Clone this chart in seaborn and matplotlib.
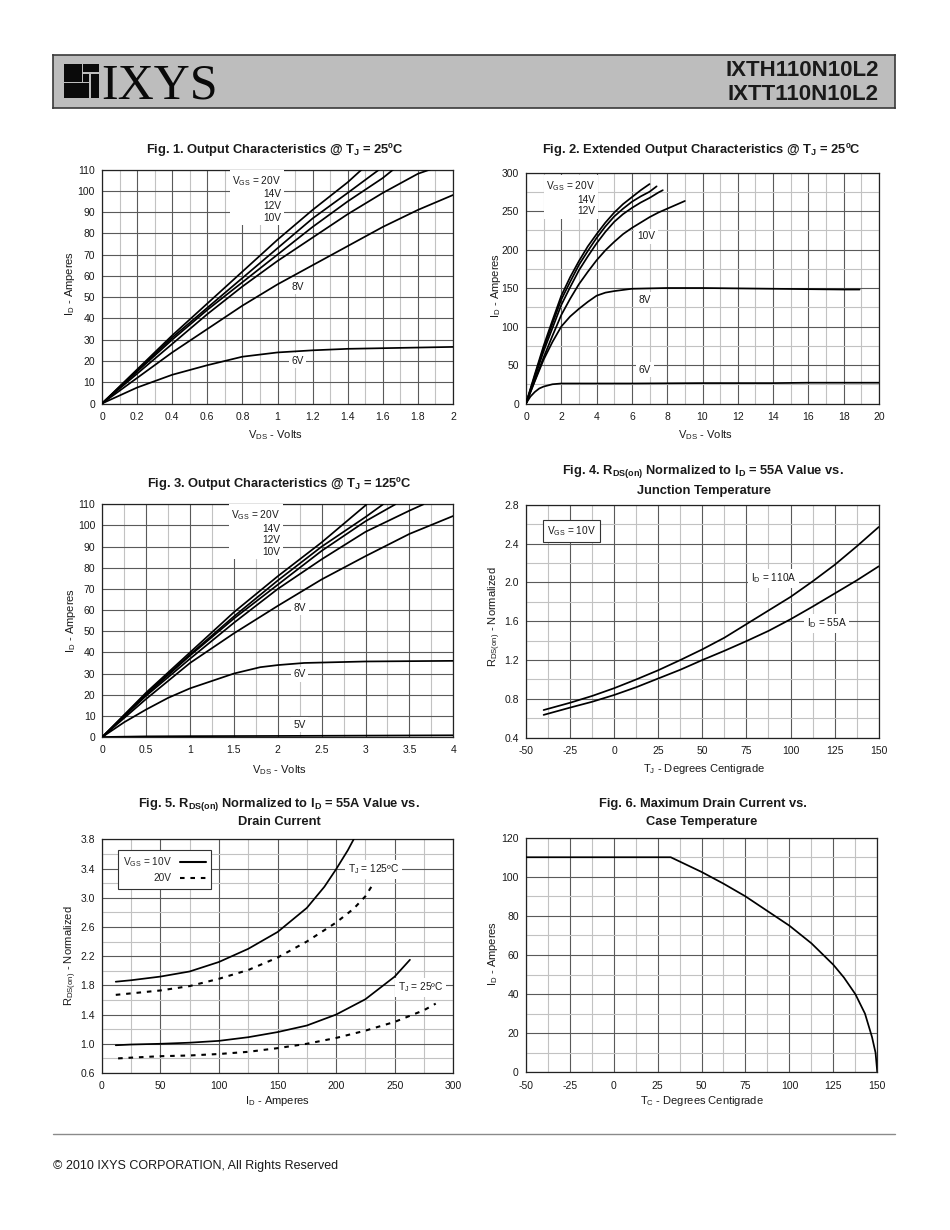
import numpy as np
import pandas as pd
import matplotlib
matplotlib.use("Agg")
import matplotlib.pyplot as plt
import seaborn as sns
from matplotlib.patches import Rectangle
from matplotlib.lines import Line2D

sns.set_style("white")
plt.rcParams["font.family"] = ["Liberation Sans", "DejaVu Sans"]
plt.rcParams["mathtext.fontset"] = "custom"
plt.rcParams["mathtext.rm"] = "Liberation Sans"
plt.rcParams["mathtext.it"] = "Liberation Sans:italic"
plt.rcParams["mathtext.bf"] = "Liberation Sans:bold"

# ---------------- Fig. 1 data (TJ = 25C, 0-2 V) ----------------
f1_20v_x = [0, 0.2, 0.4, 0.6, 0.8, 1.0, 1.2, 1.4, 1.48]
f1_20v_y = [0, 16, 32, 47, 62, 77, 91, 104, 110]
f1_14v_x = [0, 0.2, 0.4, 0.6, 0.8, 1.0, 1.2, 1.4, 1.58]
f1_14v_y = [0, 15.5, 31, 45, 59, 73, 87, 99, 110]
f1_12v_x = [0, 0.2, 0.4, 0.6, 0.8, 1.0, 1.2, 1.4, 1.6, 1.66]
f1_12v_y = [0, 15, 30, 44, 57, 70, 83, 95, 106, 110]
f1_10v_x = [0, 0.2, 0.4, 0.6, 0.8, 1.0, 1.2, 1.4, 1.6, 1.8, 1.87]
f1_10v_y = [0, 14, 28, 42, 55, 67, 78, 89, 99, 108, 110]
f1_8v_x = [0, 0.2, 0.4, 0.6, 0.8, 1.0, 1.2, 1.4, 1.6, 1.8, 2.0]
f1_8v_y = [0, 12, 24, 35, 46, 56, 65, 74, 83, 91, 98]
f1_6v_x = [0, 0.2, 0.4, 0.6, 0.8, 1.0, 1.2, 1.4, 1.6, 1.8, 2.0]
f1_6v_y = [0, 7.5, 13.5, 18, 22, 24, 25, 25.7, 26, 26.3, 26.6]

# ---------------- Fig. 2 data (TJ = 25C, 0-20 V) ----------------
f2_20v_x = [0, 0.5, 1, 1.5, 2, 2.5, 3, 3.5, 4, 4.5, 5, 5.5, 6, 6.5, 7]
f2_20v_y = [0, 38, 75, 108, 140, 164, 185, 204, 220, 235, 248, 259, 268, 277, 285]
f2_14v_x = [0, 0.5, 1, 1.5, 2, 2.5, 3, 3.5, 4, 4.5, 5, 5.5, 6, 6.5, 7, 7.4]
f2_14v_y = [0, 36, 72, 104, 135, 158, 180, 198, 215, 230, 243, 253, 262, 269, 275, 282]
f2_12v_x = [0, 0.5, 1, 1.5, 2, 2.5, 3, 3.5, 4, 4.5, 5, 5.5, 6, 6.5, 7, 7.5, 7.75]
f2_12v_y = [0, 34, 68, 98, 128, 151, 173, 191, 208, 223, 236, 246, 254, 261, 267, 274, 277]
f2_10v_x = [0, 0.5, 1, 1.5, 2, 2.5, 3, 3.5, 4, 4.5, 5, 5.5, 6, 6.5, 7, 7.5, 8, 8.5, 9]
f2_10v_y = [0, 30, 60, 88, 115, 136, 155, 171, 186, 199, 210, 220, 228, 235, 242, 248, 253, 258, 263]
f2_8v_x = [0, 0.5, 1, 1.5, 2, 2.5, 3, 3.5, 4, 4.5, 5, 6, 8, 10, 14, 18, 18.9]
f2_8v_y = [0, 29, 57, 80, 100, 113, 123, 132, 140, 144, 146, 149, 150, 150, 149, 148, 148]
f2_6v_x = [0, 0.25, 0.5, 0.75, 1, 1.5, 2, 6, 10, 14, 16, 20]
f2_6v_y = [0, 9, 15, 19.5, 22, 25, 26, 26, 26.5, 26.5, 27, 27]

# ---------------- Fig. 3 data (TJ = 125C, 0-4 V) ----------------
f3_20v_x = [0, 0.5, 1, 1.5, 2, 2.5, 3, 3.01]
f3_20v_y = [0, 21, 40, 59, 76, 92, 109.5, 110]
f3_14v_x = [0, 0.5, 1, 1.5, 2, 2.5, 3, 3.2]
f3_14v_y = [0, 20.5, 39, 57, 74, 90, 104, 110]
f3_12v_x = [0, 0.5, 1, 1.5, 2, 2.5, 3, 3.34]
f3_12v_y = [0, 20, 38.5, 56, 72, 88, 102, 110]
f3_10v_x = [0, 0.5, 1, 1.5, 2, 2.5, 3, 3.5, 3.66]
f3_10v_y = [0, 19.5, 37, 54, 70, 84, 97, 107, 110]
f3_8v_x = [0, 0.5, 1, 1.5, 2, 2.5, 3, 3.5, 4]
f3_8v_y = [0, 18, 35, 49, 62, 74.5, 85.5, 96, 104.5]
f3_6v_x = [0, 0.25, 0.5, 0.75, 1, 1.5, 1.8, 2, 2.3, 3, 4]
f3_6v_y = [0, 7, 13, 18.5, 23, 30, 33, 34, 35, 35.7, 36]
f3_5v_x = [0, 0.5, 1, 2, 4]
f3_5v_y = [0, 0.3, 0.4, 0.5, 0.8]

# ---------------- Fig. 4 data (RDS(on) vs TJ) ----------------
f4_tj = [-40, -25, -12.5, 0, 12.5, 25, 37.5, 50, 62.5, 75, 87.5, 100, 112.5, 125, 137.5, 150]
f4_110a = [0.685, 0.76, 0.83, 0.91, 1.0, 1.095, 1.2, 1.31, 1.43, 1.57, 1.71, 1.85, 2.01, 2.18, 2.37, 2.57]
f4_55a = [0.635, 0.71, 0.77, 0.84, 0.92, 1.01, 1.1, 1.2, 1.295, 1.395, 1.5, 1.62, 1.75, 1.885, 2.02, 2.165]

# ---------------- Fig. 5 data (RDS(on) vs ID) ----------------
f5_125_10v_x = [12, 25, 50, 75, 100, 125, 150, 175, 190, 200, 210, 215]
f5_125_10v_y = [1.85, 1.87, 1.92, 1.99, 2.12, 2.3, 2.53, 2.86, 3.15, 3.39, 3.65, 3.8]
f5_125_20v_x = [12, 25, 50, 75, 100, 125, 150, 175, 200, 215, 225, 232]
f5_125_20v_y = [1.67, 1.69, 1.73, 1.79, 1.89, 2.01, 2.18, 2.4, 2.66, 2.85, 3.02, 3.2]
f5_25_10v_x = [12, 25, 50, 75, 100, 125, 150, 175, 200, 225, 250, 263]
f5_25_10v_y = [0.98, 0.99, 1.0, 1.015, 1.04, 1.09, 1.16, 1.25, 1.4, 1.61, 1.92, 2.15]
f5_25_20v_x = [14, 25, 50, 75, 100, 125, 150, 175, 200, 225, 250, 275, 285]
f5_25_20v_y = [0.8, 0.81, 0.83, 0.84, 0.86, 0.89, 0.94, 1.0, 1.08, 1.18, 1.3, 1.46, 1.55]

# ---------------- Fig. 6 data (max ID vs TC) ----------------
f6_tc = [-50, 32.5, 50, 62.5, 75, 87.5, 100, 112.5, 125, 131, 137.5, 143, 147, 149, 150]
f6_id = [110, 110, 102.5, 96.5, 90, 82.5, 75, 66, 55, 48.5, 40, 30, 18, 10, 0]

W, H = 950, 1230
fig = plt.figure(figsize=(W / 100, H / 100), dpi=100)
fig.patch.set_facecolor("white")

MAJ = "#5a5a5a"
MIN = "#c2c2c2"
TXT = "#1a1a1a"


def add_ax(x0, x1, y0, y1):
    return fig.add_axes([x0 / W, 1 - y1 / H, (x1 - x0) / W, (y1 - y0) / H])


def style(ax, xlim, ylim, xmaj, xmin, ymaj, ymin, xfmt="%g", yfmt="%g"):
    ax.set_xlim(*xlim)
    ax.set_ylim(*ylim)
    ax.set_xticks(xmaj)
    ax.set_yticks(ymaj)
    ax.set_xticklabels([xfmt % v for v in xmaj])
    ax.set_yticklabels([yfmt % v for v in ymaj])
    if xmin is not None:
        ax.set_xticks(xmin, minor=True)
    if ymin is not None:
        ax.set_yticks(ymin, minor=True)
    ax.grid(which="major", color=MAJ, lw=0.8)
    ax.grid(which="minor", color=MIN, lw=0.8)
    ax.set_axisbelow(True)
    ax.tick_params(which="both", length=0, labelsize=7.5, colors=TXT)
    ax.tick_params(axis="x", pad=6)
    ax.tick_params(axis="y", pad=5)
    for s in ax.spines.values():
        s.set_color("#222222")
        s.set_linewidth(0.9)
        s.set_visible(True)
    ax.set_facecolor("white")


def curve(ax, x, y, dashed=False):
    df = pd.DataFrame({"x": x, "y": y})
    kw = dict(color="black", lw=1.25, estimator=None, sort=False, zorder=3)
    if dashed:
        kw["linestyle"] = (0, (2.2, 2.8))
        kw["lw"] = 1.5
    sns.lineplot(data=df, x="x", y="y", ax=ax, **kw)


def labels(ax, xl, yl, xc, yc, yxc, yyc, ax_box):
    x0, x1, y0, y1 = ax_box
    ax.set_xlabel(xl, fontsize=8, color=TXT)
    ax.set_ylabel(yl, fontsize=8, color=TXT)
    ax.xaxis.label.set_va("center")
    ax.yaxis.label.set_va("center")
    ax.xaxis.set_label_coords((xc - x0) / (x1 - x0), (y1 - yc) / (y1 - y0))
    ax.yaxis.set_label_coords((yxc - x0) / (x1 - x0), (y1 - yyc) / (y1 - y0))


def lab(ax, x, y, s, ha="center"):
    ax.text(x, y, s, fontsize=7.3, color=TXT, ha=ha, va="center", zorder=4,
            linespacing=1.2,
            bbox=dict(boxstyle="square,pad=0.25", fc="white", ec="none"))


def title(xc, yc, s):
    fig.text(xc / W, 1 - yc / H, s, ha="center", va="center", fontsize=9.3,
             fontweight="bold", color=TXT)


# ---------------- Fig. 1 ----------------
b1 = (102, 453, 169.5, 403.5)
ax1 = add_ax(*b1)
for x, y in [(f1_20v_x, f1_20v_y), (f1_14v_x, f1_14v_y), (f1_12v_x, f1_12v_y),
             (f1_10v_x, f1_10v_y), (f1_8v_x, f1_8v_y), (f1_6v_x, f1_6v_y)]:
    curve(ax1, x, y)
style(ax1, (0, 2), (0, 110), np.round(np.arange(0, 2.01, 0.2), 1),
      np.arange(0.1, 2, 0.2), np.arange(0, 111, 10), None)
labels(ax1, r"V$_\mathrm{DS}$ - Volts", r"I$_\mathrm{D}$ - Amperes", 275.7, 435, 70, 283, b1)
lab(ax1, 1.02, 96.5, "V$_\\mathrm{GS}$ = 20V\n14V\n12V\n10V", ha="right")
ax1.texts[-1].set_multialignment("right")
lab(ax1, 1.115, 55, "8V")
lab(ax1, 1.115, 20, "6V")
title(275, 150, r"Fig. 1. Output Characteristics @ T$_\mathbf{J}$ = 25ºC")

# ---------------- Fig. 2 ----------------
b2 = (526, 879, 172.5, 403.5)
ax2 = add_ax(*b2)
for x, y in [(f2_20v_x, f2_20v_y), (f2_14v_x, f2_14v_y), (f2_12v_x, f2_12v_y),
             (f2_10v_x, f2_10v_y), (f2_8v_x, f2_8v_y), (f2_6v_x, f2_6v_y)]:
    curve(ax2, x, y)
style(ax2, (0, 20), (0, 300), np.arange(0, 21, 2), np.arange(1, 20, 2),
      np.arange(0, 301, 50), np.arange(25, 300, 50))
labels(ax2, r"V$_\mathrm{DS}$ - Volts", r"I$_\mathrm{D}$ - Amperes", 705.7, 435, 496, 285, b2)
lab(ax2, 3.92, 267, "V$_\\mathrm{GS}$ = 20V\n14V\n12V", ha="right")
ax2.texts[-1].set_multialignment("right")
lab(ax2, 6.8, 217, "10V")
lab(ax2, 6.75, 135, "8V")
lab(ax2, 6.75, 44, "6V")
title(701.7, 150, r"Fig. 2. Extended Output Characteristics @ T$_\mathbf{J}$ = 25ºC")

# ---------------- Fig. 3 ----------------
b3 = (102.3, 453.3, 504.3, 737)
ax3 = add_ax(*b3)
for x, y in [(f3_20v_x, f3_20v_y), (f3_14v_x, f3_14v_y), (f3_12v_x, f3_12v_y),
             (f3_10v_x, f3_10v_y), (f3_8v_x, f3_8v_y), (f3_6v_x, f3_6v_y),
             (f3_5v_x, f3_5v_y)]:
    curve(ax3, x, y)
style(ax3, (0, 4), (0, 110), np.arange(0, 4.01, 0.5), np.arange(0.25, 4, 0.5),
      np.arange(0, 111, 10), None)
labels(ax3, r"V$_\mathrm{DS}$ - Volts", r"I$_\mathrm{D}$ - Amperes", 279, 770, 70.7, 620, b3)
lab(ax3, 2.025, 96.6, "V$_\\mathrm{GS}$ = 20V\n14V\n12V\n10V", ha="right")
ax3.texts[-1].set_multialignment("right")
lab(ax3, 2.25, 61, "8V")
lab(ax3, 2.25, 29.6, "6V")
lab(ax3, 2.25, 5.7, "5V")
title(279, 483, r"Fig. 3. Output Characteristics @ T$_\mathbf{J}$ = 125ºC")

# ---------------- Fig. 4 ----------------
b4 = (526, 878.7, 504.7, 737.7)
ax4 = add_ax(*b4)
curve(ax4, f4_tj, f4_110a)
curve(ax4, f4_tj, f4_55a)
style(ax4, (-50, 150), (0.4, 2.8), np.arange(-50, 151, 25), np.arange(-37.5, 150, 25),
      np.round(np.arange(0.4, 2.81, 0.4), 1), np.round(np.arange(0.6, 2.8, 0.4), 1),
      yfmt="%.1f")
labels(ax4, r"T$_\mathrm{J}$ - Degrees Centigrade", r"R$_\mathrm{DS(on)}$ - Normalized",
       704, 769, 495, 617, b4)
lab(ax4, 90.3, 2.04, r"I$_\mathrm{D}$ = 110A")
lab(ax4, 120.6, 1.58, r"I$_\mathrm{D}$ = 55A")
ax4.text(-38, 2.525, r"V$_\mathrm{GS}$ = 10V", fontsize=7.3, color=TXT, ha="left",
         va="center", zorder=4,
         bbox=dict(boxstyle="square,pad=0.4", fc="white", ec="#333333", lw=0.8))
title(703, 472, r"Fig. 4. R$_\mathbf{DS(on)}$ Normalized to I$_\mathbf{D}$ = 55A Value vs.")
title(704, 490.7, "Junction Temperature")

# ---------------- Fig. 5 ----------------
b5 = (101.7, 453.3, 839.3, 1073)
ax5 = add_ax(*b5)
curve(ax5, f5_125_10v_x, f5_125_10v_y)
curve(ax5, f5_125_20v_x, f5_125_20v_y, dashed=True)
curve(ax5, f5_25_10v_x, f5_25_10v_y)
curve(ax5, f5_25_20v_x, f5_25_20v_y, dashed=True)
style(ax5, (0, 300), (0.6, 3.8), np.arange(0, 301, 50), np.arange(25, 300, 50),
      np.round(np.arange(0.6, 3.81, 0.4), 1), np.round(np.arange(0.8, 3.8, 0.4), 1),
      yfmt="%.1f")
labels(ax5, r"I$_\mathrm{D}$ - Amperes", r"R$_\mathrm{DS(on)}$ - Normalized",
       277.7, 1101, 70.7, 955.7, b5)
lab(ax5, 232, 3.39, r"T$_\mathrm{J}$ = 125ºC")
lab(ax5, 272, 1.77, r"T$_\mathrm{J}$ = 25ºC")
handles = [Line2D([], [], color="black", lw=1.5),
           Line2D([], [], color="black", lw=1.5, linestyle=(0, (2.2, 2.8)))]
leg = ax5.legend(handles, [r"V$_\mathrm{GS}$ = 10V", "20V"], loc="upper left",
                 bbox_to_anchor=(0.0455, 0.954), borderaxespad=0, markerfirst=False,
                 frameon=True, fancybox=False, framealpha=1, edgecolor="#333333",
                 fontsize=7.3, handlelength=2.6, handletextpad=0.8, borderpad=0.5,
                 labelspacing=0.45)
leg.get_frame().set_linewidth(0.8)
leg.set_zorder(5)
title(279, 804, r"Fig. 5. R$_\mathbf{DS(on)}$ Normalized to I$_\mathbf{D}$ = 55A Value vs.")
title(279.5, 822, "Drain Current")

# ---------------- Fig. 6 ----------------
b6 = (525.7, 877.3, 837.7, 1072.3)
ax6 = add_ax(*b6)
curve(ax6, f6_tc, f6_id)
style(ax6, (-50, 150), (0, 120), np.arange(-50, 151, 25), np.arange(-37.5, 150, 25),
      np.arange(0, 121, 20), np.arange(10, 120, 20))
labels(ax6, r"T$_\mathrm{C}$ - Degrees Centigrade", r"I$_\mathrm{D}$ - Amperes",
       702, 1101, 493, 953, b6)
title(702.7, 804.3, "Fig. 6. Maximum Drain Current vs.")
title(702, 821.7, "Case Temperature")

# ---------------- Header ----------------
axh = fig.add_axes([53 / W, 1 - 108 / H, 842 / W, 53 / H])
axh.set_xlim(53, 895)
axh.set_ylim(108, 55)
axh.set_facecolor("#bdbdbd")
axh.set_xticks([])
axh.set_yticks([])
for s in axh.spines.values():
    s.set_color("#3a3a3a")
    s.set_linewidth(1.2)
for (rx0, ry0, rx1, ry1) in [(64.3, 64.3, 81.7, 81.7), (83.2, 64.3, 99.3, 71.8),
                             (83.2, 73.5, 89.3, 81.7), (91.0, 73.5, 99.3, 98.3),
                             (64.3, 83.3, 89.3, 98.3)]:
    axh.add_patch(Rectangle((rx0, ry0), rx1 - rx0, ry1 - ry0, fc="#0a0a0a", ec="none"))
axh.text(101, 98.3, "IXYS", fontsize=36, family=["Liberation Serif", "DejaVu Serif"],
         color="#0a0a0a", ha="left", va="baseline")
for yy, s in [(71, "IXTH110N10L2"), (94.5, "IXTT110N10L2")]:
    axh.text(879, yy, s, fontsize=16, fontweight="bold",
             family=["Liberation Sans Narrow", "Liberation Sans"], color="#1a1a1a",
             ha="right", va="center")

# ---------------- Footer ----------------
fig.add_artist(Line2D([53 / W, 895 / W], [1 - 1134 / H, 1 - 1134 / H], color="#8a8a8a", lw=1.0))
fig.text(53 / W, 1 - 1165.5 / H, "© 2010 IXYS CORPORATION, All Rights Reserved",
         fontsize=9, color=TXT, ha="left", va="center")

fig.savefig("out.png", dpi=100, facecolor="white")
